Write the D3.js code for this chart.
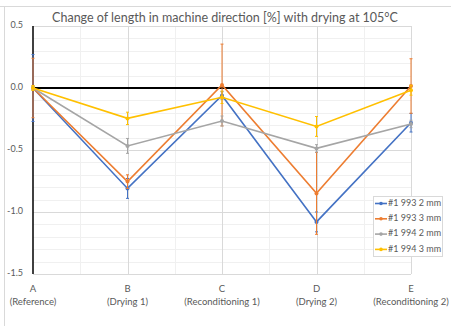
<!DOCTYPE html>
<html>
<head>
<meta charset="utf-8">
<script src="https://cdn.jsdelivr.net/npm/d3@7"></script>
<style>
  body { margin: 0; background: #fff; }
  svg text { font-family: Lato, "Open Sans", sans-serif; fill: #595959; }
</style>
</head>
<body>
<svg id="chart" width="451" height="326"></svg>
<script>
// Data
const categories = ["A", "B", "C", "D", "E"];
const categoryNotes = ["(Reference)", "(Drying 1)", "(Reconditioning 1)", "(Drying 2)", "(Reconditioning 2)"];
const seriesNames = ["#1 993 2 mm", "#1 993 3 mm", "#1 994 2 mm", "#1 994 3 mm"];
const seriesColors = ["#4472c4", "#ed7d31", "#a5a5a5", "#ffc000"];

const s993_2 = [0, -0.81, -0.06, -1.08, -0.28];
const s993_3 = [0, -0.755, 0.024, -0.85, 0.016];
const s994_2 = [0, -0.467, -0.266, -0.487, -0.29];
const s994_3 = [0, -0.245, -0.075, -0.31, -0.018];

const err993_2 = [0.27, 0.08, 0.03, 0.08, 0.075];
const err993_3 = [0.24, 0.055, 0.33, 0.33, 0.22];
const err994_2 = [0.02, 0.06, 0.04, 0.03, 0.03];
const err994_3 = [0.02, 0.05, 0.05, 0.08, 0.04];

const yTicks = [0.5, 0.0, -0.5, -1.0, -1.5];

const values = [s993_2, s993_3, s994_2, s994_3];
const errors = [err993_2, err993_3, err994_2, err994_3];

// Layout
const plot = { left: 33, right: 411, top: 26, bottom: 274 };

const svg = d3.select("#chart");

// Outer frame
svg.append("line").attr("x1", 0).attr("x2", 451).attr("y1", 6.5).attr("y2", 6.5)
  .attr("stroke", "#d9d9d9");
svg.append("line").attr("x1", 4.5).attr("x2", 4.5).attr("y1", 7).attr("y2", 326)
  .attr("stroke", "#d9d9d9");

const x = d3.scalePoint().domain(categories).range([plot.left, plot.right]);
const y = d3.scaleLinear().domain([-1.5, 0.5]).range([plot.bottom, plot.top]);

// Minor gridlines
const minorY = d3.range(-15, 6).map((d) => d / 10).filter((d) => Math.abs(d * 2 - Math.round(d * 2)) > 1e-6);
svg.append("g").selectAll("line").data(minorY).join("line")
  .attr("x1", plot.left).attr("x2", plot.right)
  .attr("y1", (d) => Math.round(y(d)) + 0.5).attr("y2", (d) => Math.round(y(d)) + 0.5)
  .attr("stroke", "#f0f0f0");

const step = x.step();
const minorX = categories.slice(0, -1).map((c) => x(c) + step / 2);
svg.append("g").selectAll("line").data(minorX).join("line")
  .attr("x1", (d) => Math.round(d) + 0.5).attr("x2", (d) => Math.round(d) + 0.5)
  .attr("y1", plot.top).attr("y2", plot.bottom)
  .attr("stroke", "#f0f0f0");

// Major gridlines
svg.append("g").selectAll("line").data(yTicks).join("line")
  .attr("x1", plot.left).attr("x2", plot.right)
  .attr("y1", (d) => Math.round(y(d)) + 0.5).attr("y2", (d) => Math.round(y(d)) + 0.5)
  .attr("stroke", "#d9d9d9");

svg.append("g").selectAll("line").data(categories.slice(1)).join("line")
  .attr("x1", (d) => Math.round(x(d)) + 0.5).attr("x2", (d) => Math.round(x(d)) + 0.5)
  .attr("y1", plot.top).attr("y2", plot.bottom)
  .attr("stroke", "#d9d9d9");

// Y tick labels
svg.append("g").selectAll("text").data(yTicks).join("text")
  .attr("x", 23).attr("y", (d) => y(d))
  .attr("text-anchor", "end").attr("dominant-baseline", "middle")
  .style("font-size", "9px")
  .text((d) => d3.format(".1f")(d).replace("−", "-"));

// X labels
const xl = svg.append("g").selectAll("g").data(categories).join("g")
  .attr("transform", (d) => `translate(${x(d)},0)`);
xl.append("text").attr("y", 292).attr("text-anchor", "middle")
  .style("font-size", "9.5px").text((d) => d);
xl.append("text").attr("y", 305).attr("text-anchor", "middle")
  .style("font-size", "9.5px").text((d, i) => categoryNotes[i]);

// Axes (black)
svg.append("line").attr("x1", plot.left).attr("x2", plot.left)
  .attr("y1", plot.top).attr("y2", plot.bottom)
  .attr("stroke", "#000").attr("stroke-width", 1.5);
svg.append("line").attr("x1", plot.left).attr("x2", plot.right)
  .attr("y1", y(0)).attr("y2", y(0))
  .attr("stroke", "#000").attr("stroke-width", 1.8);

// Series
const line = d3.line().x((d, i) => x(categories[i])).y((d) => y(d));

values.forEach((vals, si) => {
  const g = svg.append("g");
  const color = seriesColors[si];
  // error bars
  vals.forEach((v, i) => {
    const e = errors[si][i];
    const cx = x(categories[i]);
    g.append("line").attr("x1", cx).attr("x2", cx)
      .attr("y1", y(v + e)).attr("y2", y(v - e))
      .attr("stroke", color).attr("stroke-width", 1);
    [v + e, v - e].forEach((t) => {
      g.append("line").attr("x1", cx - 1.5).attr("x2", cx + 1.5)
        .attr("y1", y(t)).attr("y2", y(t))
        .attr("stroke", color).attr("stroke-width", 1);
    });
  });
  g.append("path").datum(vals).attr("d", line)
    .attr("fill", "none").attr("stroke", color).attr("stroke-width", 1.6);
  g.selectAll("circle").data(vals).join("circle")
    .attr("cx", (d, i) => x(categories[i])).attr("cy", (d) => y(d))
    .attr("r", 2).attr("fill", color);
});

// Legend
const legend = svg.append("g").attr("transform", "translate(373,196)");
legend.append("rect").attr("x", 0.5).attr("y", 0.5).attr("width", 69).attr("height", 60)
  .attr("fill", "#fff").attr("stroke", "#d9d9d9");
seriesNames.forEach((name, i) => {
  const ly = 7.5 + i * 15.3;
  legend.append("line").attr("x1", 2).attr("x2", 14).attr("y1", ly).attr("y2", ly)
    .attr("stroke", seriesColors[i]).attr("stroke-width", 1.6);
  legend.append("circle").attr("cx", 8).attr("cy", ly).attr("r", 1.8).attr("fill", seriesColors[i]);
  legend.append("text").attr("x", 15).attr("y", ly).attr("dominant-baseline", "middle")
    .style("font-size", "9px").text(name);
});

// Title
svg.append("text").attr("x", 225).attr("y", 22).attr("text-anchor", "middle")
  .style("font-size", "12.5px")
  .text("Change of length in machine direction [%] with drying at 105°C");
</script>
</body>
</html>
